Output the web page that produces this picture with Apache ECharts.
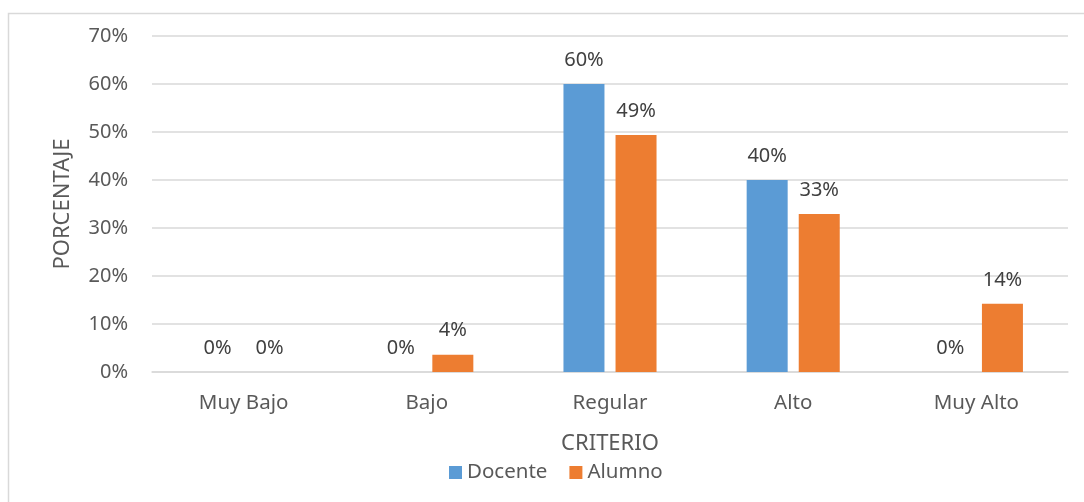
<!DOCTYPE html>
<html>
<head>
<meta charset="utf-8">
<script src="https://cdn.jsdelivr.net/npm/echarts@6/dist/echarts.min.js"></script>
<style>
html,body{margin:0;padding:0;background:#fff;}
#chart{width:1084px;height:502px;}
</style>
</head>
<body>
<div id="chart"></div>
<script>
const categories = ['Muy Bajo', 'Bajo', 'Regular', 'Alto', 'Muy Alto'];
const docente = [0, 0, 60, 40, 0];
const alumno = [0, 3.6, 49.4, 32.9, 14.2];
const seriesNames = ['Docente', 'Alumno'];

const FONT = '"Noto Sans", "Open Sans", sans-serif';
const chart = echarts.init(document.getElementById('chart'), null, {renderer: 'canvas'});
const labelCfg = {
  show: true,
  position: 'top',
  distance: 14,
  fontFamily: FONT,
  fontSize: 20,
  color: '#404040',
  formatter: p => Math.round(p.value) + '%'
};
chart.setOption({
  animation: false,
  backgroundColor: '#ffffff',
  textStyle: {fontFamily: FONT},
  graphic: [{
    type: 'rect',
    shape: {x: 8.5, y: 13.5, width: 1200, height: 600},
    style: {fill: 'none', stroke: '#d9d9d9', lineWidth: 1.5},
    silent: true
  }],
  grid: {left: 152, right: 16, top: 36, bottom: 130, containLabel: false},
  legend: {
    data: seriesNames,
    left: 444,
    top: 457,
    itemWidth: 13,
    itemHeight: 13,
    itemGap: 22,
    icon: 'rect',
    textStyle: {fontFamily: FONT, fontSize: 20.5, color: '#595959'}
  },
  xAxis: {
    type: 'category',
    data: categories,
    name: 'CRITERIO',
    nameLocation: 'middle',
    nameGap: 61,
    nameTextStyle: {fontFamily: FONT, fontSize: 22, color: '#595959'},
    axisLine: {show: true, lineStyle: {color: '#d9d9d9', width: 1.5}},
    axisTick: {show: false},
    axisLabel: {fontFamily: FONT, fontSize: 20.5, color: '#595959', margin: 21},
  },
  yAxis: {
    type: 'value',
    min: 0,
    max: 70,
    interval: 10,
    name: 'PORCENTAJE',
    nameLocation: 'middle',
    nameGap: 78,
    nameTextStyle: {fontFamily: FONT, fontSize: 22, color: '#595959'},
    axisLine: {show: false},
    axisTick: {show: false},
    axisLabel: {fontFamily: FONT, fontSize: 20, color: '#595959', margin: 24, formatter: '{value}%'},
    splitLine: {lineStyle: {color: '#d9d9d9', width: 1.5}}
  },
  series: [
    {name: seriesNames[0], type: 'bar', data: docente, barWidth: 41, barGap: '27%',
     itemStyle: {color: '#5B9BD5'}, label: labelCfg},
    {name: seriesNames[1], type: 'bar', data: alumno, barWidth: 41, barGap: '27%',
     itemStyle: {color: '#ED7D31'}, label: labelCfg}
  ]
});
</script>
</body>
</html>
